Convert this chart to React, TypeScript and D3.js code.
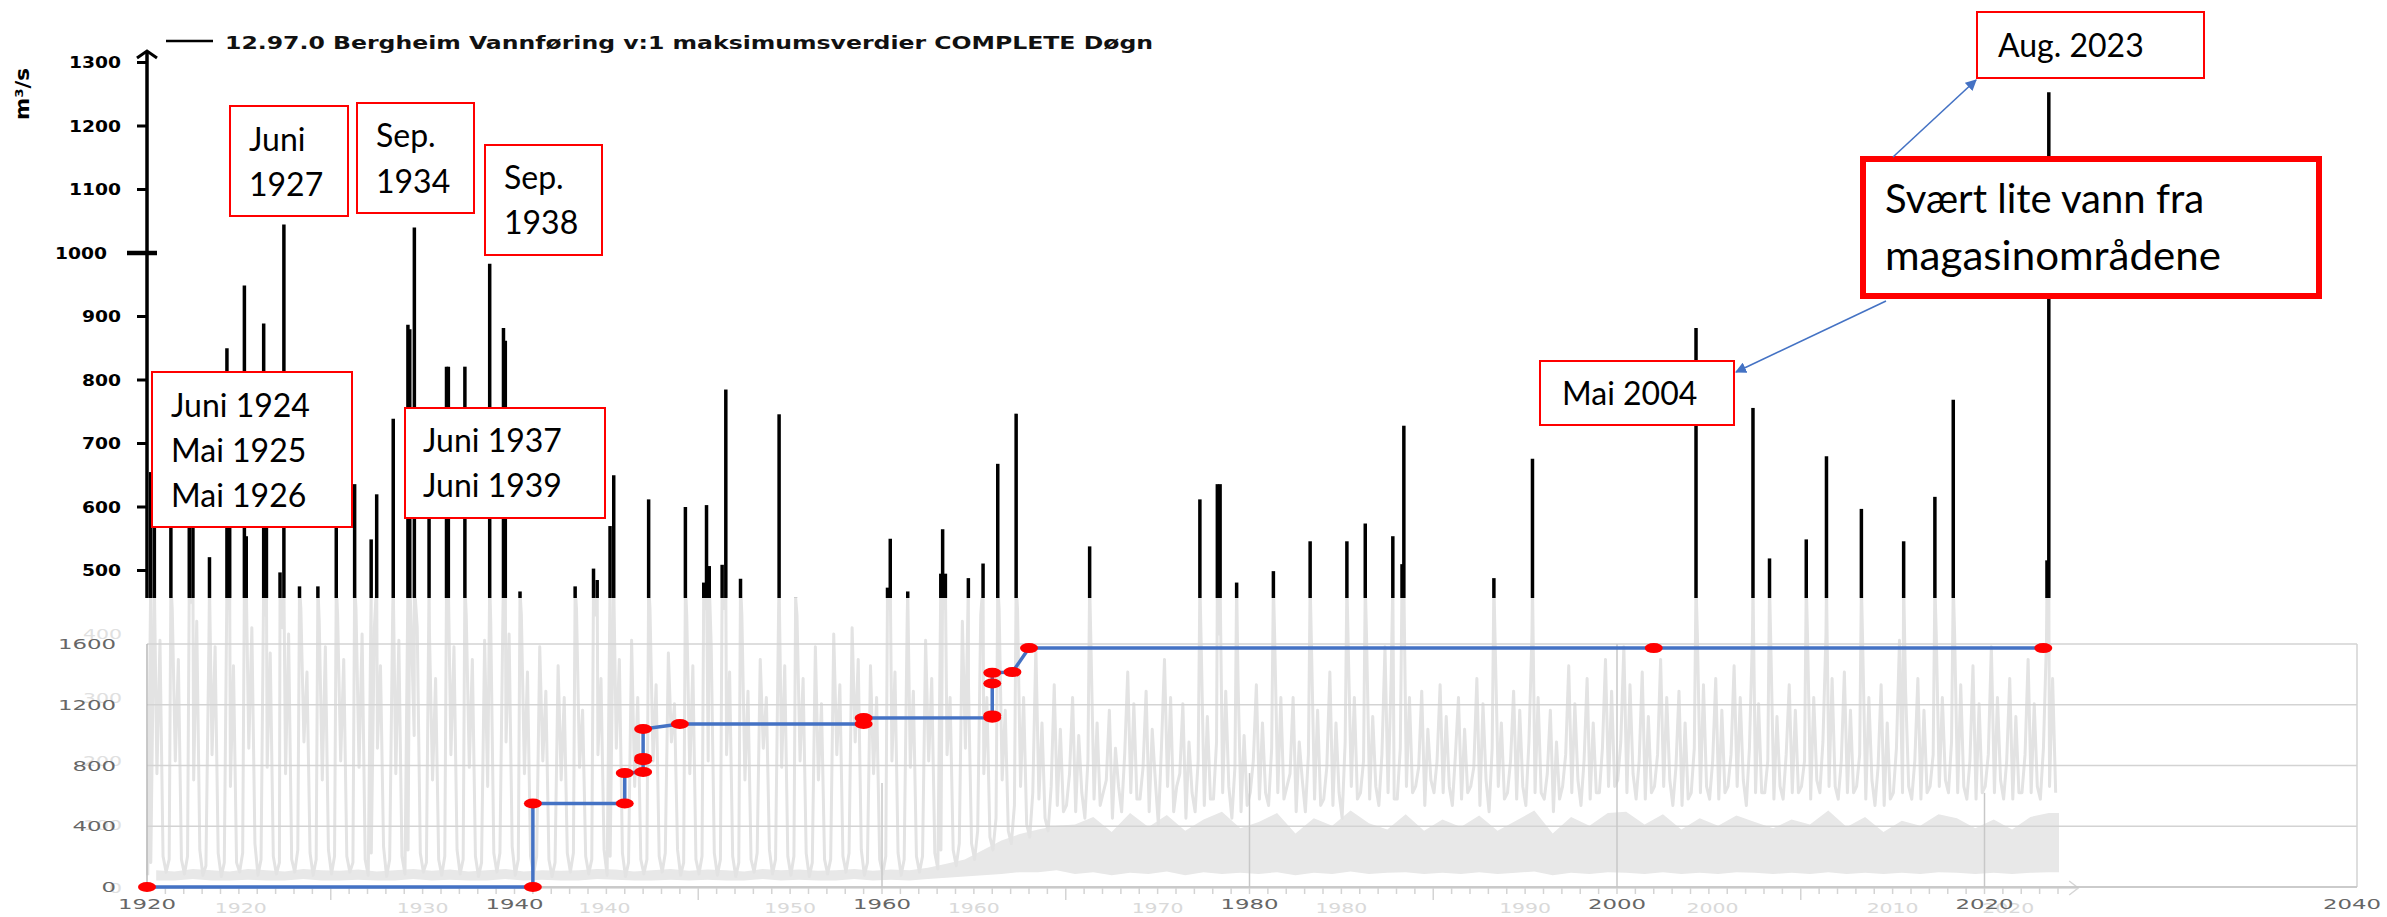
import React, { useEffect } from 'react';
import * as d3 from 'd3';

const W = 2387;
const H = 917;

// black bars: flood peaks (decimal year, m3/s)
const peakYears = [
  1920.2, 1920.4, 1921.3, 1922.3, 1922.5, 1923.4, 1924.35, 1924.5, 1925.3, 1925.4, 1926.35, 1926.5,
  1927.24, 1927.45, 1928.3, 1929.3, 1930.3, 1931.3, 1932.2, 1932.5, 1933.4, 1934.2, 1934.3, 1934.55,
  1935.35, 1936.3, 1936.4, 1937.3, 1938.65, 1939.4, 1939.5, 1940.3, 1943.3, 1944.3, 1944.5, 1945.2,
  1945.4, 1947.3, 1949.3, 1950.3, 1950.45, 1950.6, 1951.3, 1951.5, 1952.3, 1954.4, 1955.3, 1960.3,
  1960.45, 1961.4, 1963.2, 1963.3, 1963.45, 1964.7, 1965.5, 1966.3, 1967.3, 1971.3, 1977.3, 1978.25,
  1978.4, 1979.3, 1981.3, 1983.3, 1985.3, 1986.3, 1987.8, 1988.3, 1988.4, 1993.3, 1995.4, 2004.3,
  2007.4, 2008.3, 2010.3, 2011.4, 2013.3, 2015.6, 2017.3, 2018.3, 2023.4, 2023.5,
];
const peakValues = [
  655, 590, 600, 620, 590, 521, 850, 600, 949, 554, 889, 600,
  497, 1045, 475, 475, 590, 636, 549, 620, 739, 887, 880, 1040,
  590, 821, 821, 821, 983, 882, 862, 467, 475, 503, 485, 570,
  650, 612, 600, 481, 603, 507, 509, 785, 487, 746, 457, 473,
  550, 467, 495, 565, 495, 488, 511, 668, 747, 538, 612, 636,
  636, 481, 499, 546, 546, 574, 554, 510, 728, 488, 676, 882,
  756, 519, 549, 680, 597, 546, 616, 769, 516, 1253,
];

// daily flow background, per year: [bandLow, bandHigh, jan, mar, may, jul, sep, nov]
const gray1920s = [
  [12, 28, 20, 40, 430, 180, 390, 50], [12, 26, 25, 45, 440, 200, 360, 45], [14, 30, 22, 50, 450, 170, 420, 60],
  [12, 28, 20, 35, 400, 210, 380, 55], [12, 26, 18, 40, 440, 160, 350, 40], [13, 30, 25, 55, 420, 220, 410, 70],
  [12, 28, 20, 45, 430, 190, 370, 50], [12, 26, 22, 40, 410, 180, 400, 45], [14, 30, 25, 60, 440, 230, 340, 55],
  [12, 28, 20, 45, 420, 170, 380, 60],
];
const gray1930s = [
  [12, 27, 22, 50, 430, 200, 360, 50], [13, 29, 25, 40, 440, 190, 400, 45], [12, 26, 20, 55, 410, 220, 350, 65],
  [12, 28, 18, 45, 440, 180, 390, 50], [14, 30, 22, 60, 420, 240, 410, 55], [12, 27, 25, 40, 400, 170, 330, 45],
  [13, 29, 20, 50, 440, 210, 380, 60], [12, 26, 22, 45, 430, 190, 360, 50], [12, 28, 18, 40, 390, 160, 420, 55],
  [14, 30, 25, 55, 440, 230, 400, 65],
];
const gray1940s = [
  [12, 26, 20, 45, 430, 180, 340, 50], [13, 28, 22, 50, 380, 200, 310, 45], [12, 27, 18, 40, 350, 170, 300, 55],
  [12, 28, 25, 55, 440, 190, 280, 50], [14, 30, 22, 45, 430, 210, 330, 60], [13, 29, 20, 50, 440, 220, 360, 55],
  [12, 26, 18, 40, 390, 160, 300, 45], [12, 28, 22, 45, 440, 200, 320, 50], [13, 30, 25, 55, 370, 230, 290, 60],
  [12, 27, 20, 40, 430, 180, 350, 45],
];
const gray1950s = [
  [13, 29, 22, 50, 440, 200, 380, 55], [12, 28, 20, 45, 440, 210, 340, 50], [12, 26, 18, 40, 430, 170, 310, 45],
  [14, 30, 25, 55, 360, 220, 300, 60], [12, 28, 22, 45, 440, 190, 350, 50], [13, 29, 20, 50, 430, 200, 330, 55],
  [12, 27, 18, 40, 380, 170, 290, 45], [12, 28, 22, 45, 400, 210, 320, 50], [14, 30, 25, 55, 410, 230, 360, 60],
  [12, 27, 20, 40, 350, 180, 300, 45],
];
const gray1960s = [
  [13, 29, 22, 50, 440, 200, 340, 55], [12, 28, 20, 45, 430, 190, 310, 50], [14, 32, 25, 50, 390, 200, 330, 55],
  [16, 38, 30, 60, 440, 210, 300, 60], [18, 45, 35, 70, 420, 220, 320, 70], [20, 60, 45, 90, 430, 180, 300, 80],
  [22, 75, 60, 110, 440, 170, 280, 90], [25, 85, 70, 130, 440, 160, 300, 100], [25, 92, 80, 150, 380, 140, 260, 110],
  [28, 98, 90, 160, 320, 130, 250, 120],
];
const gray1970s = [
  [22, 100, 130, 180, 300, 120, 240, 150], [25, 112, 110, 200, 380, 140, 260, 130], [20, 88, 150, 170, 280, 110, 220, 160],
  [24, 118, 120, 210, 340, 150, 290, 140], [22, 96, 140, 190, 310, 120, 250, 170], [26, 115, 100, 220, 360, 160, 300, 120],
  [20, 90, 160, 180, 290, 110, 230, 150], [25, 108, 120, 200, 380, 130, 270, 140], [22, 120, 140, 230, 400, 150, 310, 160],
  [24, 94, 110, 190, 330, 120, 240, 130],
];
const gray1980s = [
  [22, 104, 150, 200, 320, 140, 260, 150], [25, 118, 130, 220, 390, 150, 300, 140], [20, 86, 160, 180, 300, 120, 230, 170],
  [24, 110, 120, 210, 380, 140, 280, 130], [22, 98, 140, 190, 340, 130, 260, 150], [26, 122, 110, 230, 380, 160, 300, 140],
  [22, 102, 150, 200, 390, 140, 270, 160], [24, 92, 130, 210, 380, 150, 330, 140], [25, 116, 140, 220, 400, 160, 300, 150],
  [22, 90, 160, 190, 310, 130, 250, 170],
];
const gray1990s = [
  [24, 108, 150, 200, 320, 150, 270, 160], [22, 96, 130, 210, 300, 140, 250, 150], [25, 114, 160, 190, 330, 130, 290, 170],
  [22, 90, 120, 220, 380, 160, 260, 140], [24, 106, 150, 200, 310, 140, 280, 160], [26, 122, 130, 230, 400, 150, 300, 150],
  [20, 86, 140, 180, 280, 120, 230, 140], [24, 112, 160, 210, 350, 150, 290, 170], [22, 98, 130, 200, 330, 140, 260, 150],
  [25, 118, 150, 220, 360, 160, 310, 160],
];
const gray2000s = [
  [24, 120, 170, 230, 380, 150, 320, 180], [22, 100, 140, 200, 340, 140, 270, 150], [25, 116, 160, 210, 360, 160, 300, 170],
  [22, 92, 130, 190, 310, 130, 260, 140], [24, 110, 150, 220, 400, 150, 320, 160], [22, 98, 140, 200, 330, 140, 280, 150],
  [25, 114, 160, 210, 350, 160, 300, 170], [24, 104, 130, 220, 400, 150, 290, 150], [22, 94, 150, 200, 380, 140, 270, 160],
  [24, 108, 140, 210, 320, 150, 280, 150],
];
const gray2010s = [
  [22, 100, 160, 200, 390, 140, 300, 170], [25, 122, 150, 230, 400, 160, 330, 160], [22, 96, 140, 200, 340, 150, 280, 150],
  [24, 112, 160, 210, 380, 140, 300, 170], [22, 88, 130, 190, 320, 130, 260, 140], [24, 106, 150, 220, 390, 150, 310, 160],
  [22, 98, 140, 200, 330, 140, 280, 150], [25, 116, 160, 210, 400, 160, 300, 170], [24, 110, 150, 230, 400, 150, 320, 160],
  [22, 94, 140, 200, 350, 140, 290, 150],
];
const gray2020s = [
  [24, 108, 160, 210, 380, 150, 300, 170], [22, 92, 140, 200, 330, 140, 270, 150], [24, 112, 150, 210, 360, 150, 290, 160],
  [25, 118, 140, 220, 390, 160, 330, 150],
];

// blue step line with red markers (year, value)
const stepYears = [1920, 1941, 1941, 1946, 1946, 1947, 1947, 1947, 1947, 1949, 1959, 1959, 1966, 1966, 1966, 1966, 1967.1, 1968, 2002, 2023.2];
const stepValues = [0, 0, 550, 550, 750, 757, 835, 850, 1040, 1073, 1073, 1112, 1115, 1130, 1340, 1410, 1415, 1573, 1573, 1573];

// axes
const topTicks = [500, 600, 700, 800, 900, 1000, 1100, 1200, 1300];
const lowTicks = [0, 400, 800, 1200, 1600];
const lowXTicks = [1920, 1940, 1960, 1980, 2000, 2020, 2040];
const faintYTicks = [0, 100, 200, 300, 400];
const faintXLabels = ['1920', '1930', '1940', '1950', '1960', '1970', '1980', '1990', '2000', '2010', '2020'];
const faintXPos = [1925.1, 1935, 1944.9, 1955, 1965, 1975, 1985, 1995, 2005.2, 2015, 2021.3];
const faintLongTicks = [1930, 1950, 1970, 1990, 2010];
const vLineYears = [1960, 1980, 2000, 2020];
const vLineTops = [685, 750, 1600, 620];

const legendText = '12.97.0 Bergheim Vannføring v:1 maksimumsverdier COMPLETE Døgn';

const x = d3.scaleLinear().domain([1920, 2040]).range([147, 2352]);
const yTop = d3.scaleLinear().domain([0, 1300]).range([888, 62.5]);
const yLow = d3.scaleLinear().domain([0, 1600]).range([887, 644]);

const CUT = 598; // where the upper plot is covered by the lower one
const boxFont = 'Lato, "Open Sans", sans-serif';
const axFont = '"DejaVu Sans", Verdana, sans-serif';

const App = () => {
  useEffect(() => {
    document.body.style.margin = '0';
  }, []);

  const grayRows = [...gray1920s, ...gray1930s, ...gray1940s, ...gray1950s, ...gray1960s,
    ...gray1970s, ...gray1980s, ...gray1990s, ...gray2000s, ...gray2010s, ...gray2020s];

  const grayPts: [number, number][] = [];
  grayRows.forEach((r, i) => {
    r.slice(2).forEach((v, k) => grayPts.push([1920 + i + k / 6 + 0.04, v]));
  });
  peakYears.forEach((t, i) => grayPts.push([t, Math.min(peakValues[i], 480)]));
  grayPts.sort((a, b) => a[0] - b[0]);

  const grayLine = d3.line<[number, number]>().x(d => x(d[0])).y(d => yTop(d[1]));
  const bandData = grayRows.map((r, i) => ({ yr: 1920 + i, lo: r[0], hi: r[1] }));
  bandData.push({ ...bandData[bandData.length - 1], yr: 1920 + grayRows.length });
  const band = d3.area<{ yr: number; lo: number; hi: number }>()
    .x(d => x(d.yr + 0.5)).y0(d => yTop(d.lo)).y1(d => yTop(d.hi));

  const stepLine = d3.line<number>().x((_, i) => x(stepYears[i])).y(d => yLow(d));

  const minorYears = d3.range(1921, 2025);

  return (
    <svg width={W} height={H} style={{ display: 'block', background: '#fff' }}>
      <defs>
        <clipPath id="lowerClip"><rect x={0} y={CUT} width={x(2024.05)} height={H - CUT} /></clipPath>
        <marker id="arrowHead" viewBox="0 0 10 10" refX={9} refY={5} markerWidth={7} markerHeight={7} orient="auto">
          <path d="M0,0 L10,5 L0,10 z" fill="#4472c4" />
        </marker>
      </defs>

      {/* washed out daily series */}
      <g clipPath="url(#lowerClip)">
        <path d={band(bandData) || ''} fill="#e8e8e8" />
        <path d={grayLine(grayPts) || ''} fill="none" stroke="#e3e3e3" strokeWidth={3} strokeLinejoin="round" />
      </g>

      {/* faint axis of the original plot */}
      <line x1={x(1920)} x2={x(2025.1)} y1={yTop(0)} y2={yTop(0)} stroke="#d6d6d6" strokeWidth={1.5} />
      <path d={`M${x(2025.1) - 9},${yTop(0) - 7} L${x(2025.1)},${yTop(0)} L${x(2025.1) - 9},${yTop(0) + 7}`}
        fill="none" stroke="#d6d6d6" strokeWidth={1.5} />
      {minorYears.map(yr => (
        <line key={'m' + yr} x1={x(yr)} x2={x(yr)} y1={yTop(0)} y2={yTop(0) + (faintLongTicks.includes(yr) ? 12 : 6)}
          stroke="#d4d4d4" strokeWidth={1.5} />
      ))}
      {faintXLabels.map((l, i) => (
        <text key={'fx' + l} x={x(faintXPos[i])} y={913} textAnchor="middle" fontFamily={axFont} fontSize={14}
          fill="#d9d9d9" textLength={52} lengthAdjust="spacingAndGlyphs">{l}</text>
      ))}
      {faintYTicks.map(v => (
        <text key={'fy' + v} x={122} y={yTop(v) + 5} textAnchor="end" fontFamily={axFont} fontSize={14}
          fill="#e0e0e0" textLength={String(v).length * 13} lengthAdjust="spacingAndGlyphs">{v}</text>
      ))}

      {/* lower chart grid */}
      {lowTicks.map(v => (
        <line key={'g' + v} x1={x(1920)} x2={x(2040) + 5} y1={yLow(v)} y2={yLow(v)} stroke="#d3d3d3" strokeWidth={1.5} />
      ))}
      {vLineYears.map((yr, i) => (
        <line key={'v' + yr} x1={x(yr)} x2={x(yr)} y1={yLow(0)} y2={yLow(vLineTops[i])} stroke="#c8c8c8" strokeWidth={1.5} />
      ))}
      <line x1={x(1920)} x2={x(1920)} y1={yLow(0)} y2={yLow(1600)} stroke="#b8b8b8" strokeWidth={1.5} />
      <line x1={x(2040) + 5} x2={x(2040) + 5} y1={yLow(0)} y2={yLow(1600)} stroke="#d3d3d3" strokeWidth={1.5} />
      <line x1={x(1920)} x2={x(2040) + 5} y1={yLow(0)} y2={yLow(0)} stroke="#c4c4c4" strokeWidth={1.5} />

      {lowTicks.map(v => (
        <text key={'ly' + v} x={116} y={yLow(v) + 5} textAnchor="end" fontFamily={axFont} fontSize={14}
          fill="#666" textLength={String(v).length * 14.5} lengthAdjust="spacingAndGlyphs">{v}</text>
      ))}
      {lowXTicks.map(v => (
        <text key={'lx' + v} x={x(v)} y={909} textAnchor="middle" fontFamily={axFont} fontSize={14}
          fill="#666" textLength={58} lengthAdjust="spacingAndGlyphs">{v}</text>
      ))}

      <path d={stepLine(stepValues) || ''} fill="none" stroke="#4472c4" strokeWidth={3.5} />
      {stepValues.map((v, i) => (
        <ellipse key={'d' + i} cx={x(stepYears[i])} cy={yLow(v)} rx={9} ry={5} fill="#ff0000" />
      ))}

      {/* upper chart: flood peaks */}
      {peakYears.map((t, i) => (
        <line key={'p' + i} x1={x(t)} x2={x(t)} y1={CUT} y2={yTop(peakValues[i])} stroke="#000" strokeWidth={3.5} />
      ))}
      <line x1={147} x2={147} y1={51} y2={CUT} stroke="#000" strokeWidth={3.5} />
      <path d="M137,58 L147,51 L157,58" fill="none" stroke="#000" strokeWidth={3} />
      {topTicks.map(v => (
        <g key={'t' + v}>
          <line x1={v === 1000 ? 127 : 137} x2={v === 1000 ? 157 : 147} y1={yTop(v)} y2={yTop(v)}
            stroke="#000" strokeWidth={v === 1000 ? 4.5 : 3} />
          <text x={v === 1000 ? 107 : 121} y={yTop(v) + 5.5} textAnchor="end" fontFamily={axFont} fontWeight="bold"
            fontSize={15} textLength={String(v).length * 13} lengthAdjust="spacingAndGlyphs">{v}</text>
        </g>
      ))}
      <text transform="translate(29,94) rotate(-90)" textAnchor="middle" fontFamily={axFont} fontWeight="bold"
        fontSize={19} textLength={52} lengthAdjust="spacingAndGlyphs">m³/s</text>
      <line x1={166} x2={213} y1={41} y2={41} stroke="#000" strokeWidth={2.5} />
      <text x={225} y={49} fontFamily={axFont} fontWeight="bold" fontSize={18} fill="#111"
        textLength={928} lengthAdjust="spacingAndGlyphs">{legendText}</text>

      {/* annotations */}
      <g fontFamily={boxFont} fontSize={32} fill="#000">
        <rect x={230} y={106} width={118} height={110} fill="#fff" stroke="#ff0000" strokeWidth={2} />
        <text x={249} y={151}>Juni</text>
        <text x={249} y={196}>1927</text>

        <rect x={357} y={103} width={117} height={110} fill="#fff" stroke="#ff0000" strokeWidth={2} />
        <text x={376} y={147}>Sep.</text>
        <text x={376} y={193}>1934</text>

        <rect x={485} y={145} width={117} height={110} fill="#fff" stroke="#ff0000" strokeWidth={2} />
        <text x={504} y={189}>Sep.</text>
        <text x={504} y={234}>1938</text>

        <rect x={152} y={372} width={200} height={155} fill="#fff" stroke="#ff0000" strokeWidth={2} />
        <text x={171} y={417}>Juni 1924</text>
        <text x={171} y={462}>Mai 1925</text>
        <text x={171} y={507}>Mai 1926</text>

        <rect x={405} y={408} width={200} height={110} fill="#fff" stroke="#ff0000" strokeWidth={2} />
        <text x={423} y={452}>Juni 1937</text>
        <text x={423} y={497}>Juni 1939</text>

        <rect x={1540} y={361} width={194} height={64} fill="#fff" stroke="#ff0000" strokeWidth={2} />
        <text x={1562} y={405}>Mai 2004</text>

        <rect x={1977} y={12} width={227} height={66} fill="#fff" stroke="#ff0000" strokeWidth={2} />
        <text x={1998} y={57}>Aug. 2023</text>

        <rect x={1863} y={159} width={456} height={137} fill="#fff" stroke="#ff0000" strokeWidth={6} />
        <text x={1885} y={213} fontSize={40}>Svært lite vann fra</text>
        <text x={1885} y={270} fontSize={40} textLength={336} lengthAdjust="spacingAndGlyphs">magasinområdene</text>
      </g>
      <line x1={1893} y1={157} x2={1976} y2={80} stroke="#4472c4" strokeWidth={1.6} markerEnd="url(#arrowHead)" />
      <line x1={1886} y1={301} x2={1736} y2={372} stroke="#4472c4" strokeWidth={1.6} markerEnd="url(#arrowHead)" />
    </svg>
  );
};

export default App;
